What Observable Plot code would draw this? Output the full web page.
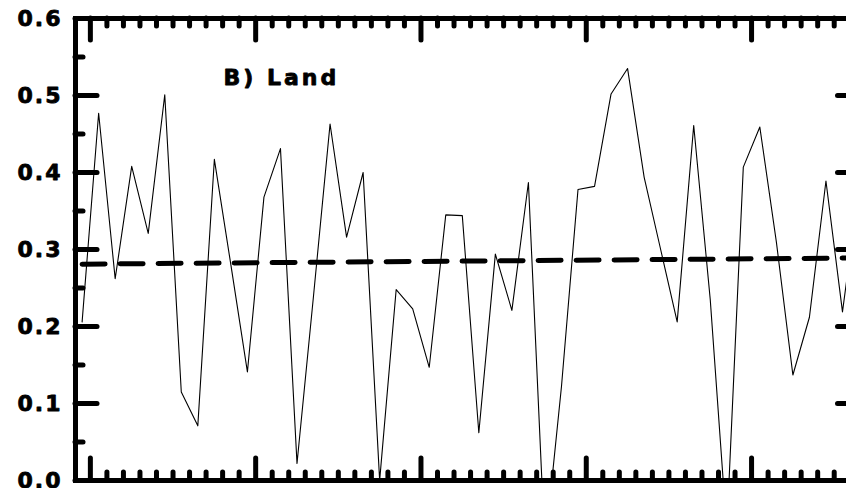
<!DOCTYPE html>
<html>
<head>
<meta charset="utf-8">
<script src="https://cdn.jsdelivr.net/npm/d3@7"></script>
<script src="https://cdn.jsdelivr.net/npm/@observablehq/plot@0.6"></script>
<style>
  html, body { margin: 0; padding: 0; background: #fff; }
  #chart svg { display: block; }
</style>
</head>
<body>
<div id="chart"></div>
<script>
// ---- data ----
const years = [1959, 1960, 1961, 1962, 1963, 1964, 1965, 1966, 1967, 1968,
               1969, 1970, 1971, 1972, 1973, 1974, 1975, 1976, 1977, 1978,
               1979, 1980, 1981, 1982, 1983, 1984, 1985, 1986, 1987, 1988,
               1989, 1990, 1991, 1992, 1993, 1994, 1995, 1996, 1997, 1998,
               1999, 2000, 2001, 2002, 2003, 2004, 2005, 2006];
const values = [0.206, 0.477, 0.262, 0.408, 0.321, 0.501, 0.115, 0.071, 0.417, 0.280,
                0.141, 0.368, 0.431, 0.022, 0.240, 0.463, 0.316, 0.400, 0.000, 0.248,
                0.223, 0.147, 0.345, 0.344, 0.062, 0.294, 0.221, 0.387, -0.088, 0.122,
                0.378, 0.382, 0.502, 0.535, 0.394, 0.300, 0.206, 0.461, 0.235, -0.065,
                0.407, 0.459, 0.310, 0.137, 0.212, 0.389, 0.219, 0.380];
const trendYears = [1959, 2006];
const trendValues = [0.281, 0.289];
const yMajorTicks = [0, 0.1, 0.2, 0.3, 0.4, 0.5, 0.6];
const yTickLabels = ["0.0", "0.1", "0.2", "0.3", "0.4", "0.5", "0.6"];
const yMinorTicks = [0.05, 0.15, 0.25, 0.35, 0.45, 0.55];
const xMajorTicks = [1960, 1970, 1980, 1990, 2000];
const xMinorTicks = [1961, 1962, 1963, 1964, 1965, 1966, 1967, 1968, 1969,
                     1971, 1972, 1973, 1974, 1975, 1976, 1977, 1978, 1979,
                     1981, 1982, 1983, 1984, 1985, 1986, 1987, 1988, 1989,
                     1991, 1992, 1993, 1994, 1995, 1996, 1997, 1998, 1999,
                     2001, 2002, 2003, 2004, 2005, 2006];
const panelLabel = "B) Land";

// ---- tables built from the arrays ----
const series = years.map((year, i) => ({year, value: values[i]}));
const trend = trendYears.map((year, i) => ({year, value: trendValues[i]}));
const yLabels = yMajorTicks.map((v, i) => ({v, label: yTickLabels[i]}));

// ---- layout ----
const W = 846, H = 488, ML = 75, MR = -13.5, MT = 18, MB = 8;
const FW = W - ML - MR;
const FH = H - MT - MB;
const midYear = d => d.year + 0.5;
const tickStyle = {stroke: "black", strokeWidth: 5, strokeLinecap: "round"};
const font = {fontSize: 22, fontWeight: "bold", fontFamily: "DejaVu Sans", fill: "black",
              stroke: "black", strokeWidth: 0.8};

const chart = Plot.plot({
  width: W, height: H,
  marginLeft: ML, marginRight: MR, marginTop: MT, marginBottom: MB,
  style: {background: "white", color: "black", overflow: "visible"},
  x: {domain: [1959.1, 2006.56], axis: null},
  y: {domain: [0, 0.6], axis: null},
  marks: [
    Plot.line(series, {x: midYear, y: "value", stroke: "black", strokeWidth: 1.1, clip: true}),
    Plot.line(trend, {x: midYear, y: "value", stroke: "black", strokeWidth: 5, strokeDasharray: "23,15"}),
    // bottom ticks (inward)
    Plot.tickX(xMinorTicks, {x: d => d, insetTop: FH - 8, ...tickStyle}),
    Plot.tickX(xMajorTicks, {x: d => d, insetTop: FH - 22, ...tickStyle}),
    // top ticks (inward)
    Plot.tickX(xMinorTicks, {x: d => d, insetBottom: FH - 8, ...tickStyle}),
    Plot.tickX(xMajorTicks, {x: d => d, insetBottom: FH - 22, ...tickStyle}),
    // left ticks
    Plot.tickY(yMinorTicks, {y: d => d, insetRight: FW - 8, ...tickStyle}),
    Plot.tickY(yMajorTicks, {y: d => d, insetRight: FW - 22, ...tickStyle}),
    // right ticks
    Plot.tickY(yMinorTicks, {y: d => d, insetLeft: FW - 8, ...tickStyle}),
    Plot.tickY(yMajorTicks, {y: d => d, insetLeft: FW - 22, ...tickStyle}),
    Plot.frame({stroke: "black", strokeWidth: 5}),
    Plot.text(yLabels, {y: "v", text: "label", frameAnchor: "left", textAnchor: "end", dx: -13,
                        className: "ylab", ...font}),
    Plot.text([panelLabel], {frameAnchor: "top-left", textAnchor: "start", dx: 148, dy: 51,
                             className: "panel", ...font})
  ]
});
chart.querySelectorAll(".ylab text").forEach(t => { t.style.letterSpacing = "2px"; });
chart.querySelectorAll(".panel text").forEach(t => { t.style.letterSpacing = "3px"; });
document.getElementById("chart").appendChild(chart);
</script>
</body>
</html>
